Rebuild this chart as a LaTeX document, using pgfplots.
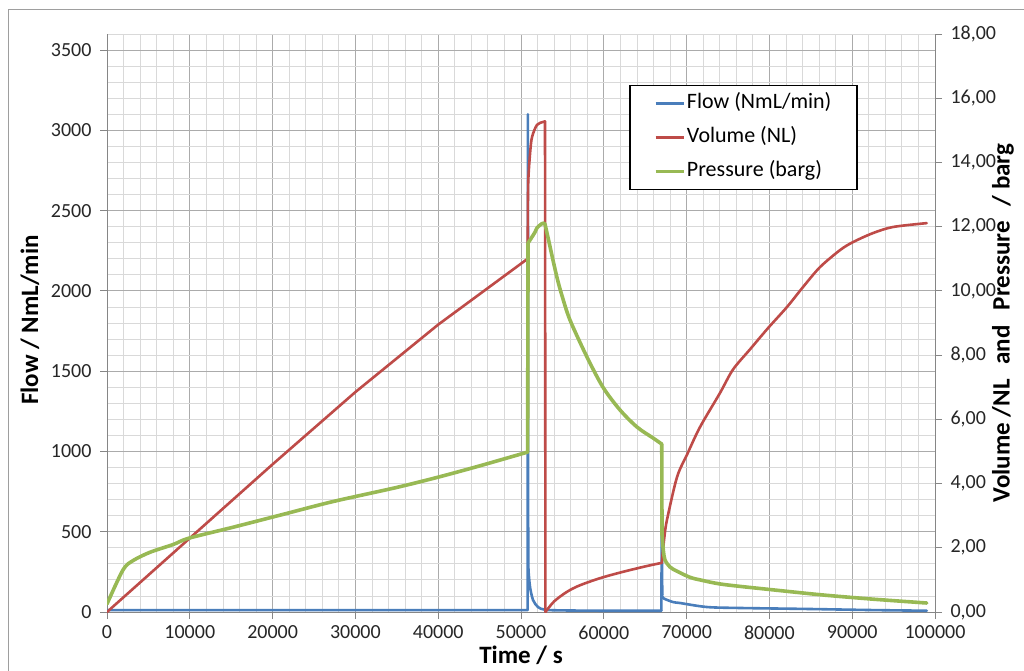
\documentclass[border=0pt]{standalone}
\usepackage{pgfplots}
\pgfplotsset{compat=1.18}
\usepackage{fontspec}
\setmainfont{Carlito}
\definecolor{flowc}{HTML}{4A7EBB}
\definecolor{volc}{HTML}{BE4B48}
\definecolor{presc}{HTML}{98B954}
\definecolor{majg}{HTML}{ABABAB}
\definecolor{ming}{HTML}{D9D9D9}
\definecolor{axg}{HTML}{868686}
\pgfplotsset{
  /pgf/number format/assume math mode=true,
  common/.style={
    at={(107pt,58pt)}, anchor=south west,
    width=828pt, height=578pt, scale only axis,
    xmin=0, xmax=100000,
    tick align=outside, major tick length=7pt, minor tick length=0pt,
    tick style={axg, line width=0.8pt},
    axis line style={axg, line width=1pt},
    ticklabel style={font=\fontsize{20}{23}\selectfont, text=black!85},
  },
  flowst/.style={flowc, line width=2.6pt, line join=round, line cap=round},
  volst/.style={volc, line width=2.6pt, line join=round, line cap=round},
  presst/.style={presc, line width=3.6pt, line join=round, line cap=round},
}
\begin{document}
\begin{tikzpicture}[x=1pt,y=1pt]
\path[use as bounding box] (0,0) rectangle (1024,670);
\draw[color=axg!80, line width=1pt] (8,-2) -- (8,660) -- (1026,660);
\begin{axis}[common,
  ymin=0, ymax=3600,
  axis x line*=bottom, axis y line*=left,
  xtick={0,10000,...,100000}, ytick={0,500,...,3500},
  minor xtick={0,2000,...,100000}, minor ytick={0,100,...,3600},
  grid=both, major grid style={majg, line width=0.8pt}, minor grid style={ming, line width=0.8pt},
  scaled x ticks=false, scaled y ticks=false,
  xticklabel={\pgfmathprintnumber[fixed,precision=0,1000 sep={},assume math mode=true]{\tick}},
  yticklabel={\pgfmathprintnumber[fixed,precision=0,1000 sep={},assume math mode=true]{\tick}},
  xticklabel style={yshift=-3pt},
  yticklabel style={xshift=-5pt},
]
% Flow
\addplot[flowst] coordinates {(0,12) (50800,12) (50830,3100) (50860,600) (50900,260)};
\addplot[flowst, smooth, tension=0.5] coordinates {
(50900,260) (51090,156) (51450,75) (52050,31) (52900,14) (55000,10) (60000,8) (66950,8)};
\addplot[flowst] coordinates {(66950,8) (67000,520) (67060,110)};
\addplot[flowst, smooth, tension=0.5] coordinates {
(67060,110) (67150,87) (68360,62) (69200,56) (72460,31) (76450,25) (84540,19) (92510,12) (99000,8)};
\end{axis}
\begin{axis}[common,
  ymin=0, ymax=18,
  axis x line=none, axis y line*=right,
  ytick={0,2,...,18},
  yticklabel={\pgfmathprintnumber[fixed,fixed zerofill,precision=2,use comma,assume math mode=true]{\tick}},
  yticklabel style={xshift=5pt},
  legend style={at={(0.6304,0.9125)}, anchor=north west, draw=black, line width=1.8pt, fill=white,
    font=\fontsize{22}{24}\selectfont, inner xsep=24pt, inner ysep=8pt, row sep=14pt,
    nodes={inner xsep=1.5pt, inner ysep=0pt, text height=15pt, text depth=5pt}},
  legend cell align=left,
  legend image code/.code={\draw[#1] (0pt,0pt) -- (28pt,0pt);},
]
\addlegendimage{flowc, line width=2.8pt}
\addlegendentry{Flow (NmL/min)}
\addlegendimage{volc, line width=2.8pt}
\addlegendentry{Volume (NL)}
\addlegendimage{presc, line width=3.6pt}
\addlegendentry{Pressure (barg)}
% Volume
\addplot[volst] coordinates {(0,0) (10000,2.3) (20000,4.6) (30000,6.85) (40000,8.95) (50800,11.0) (50830,12.5)};
\addplot[volst, smooth, tension=0.5] coordinates {
(50830,12.5) (50880,13.45) (51100,14.3) (51330,14.79) (51930,15.17) (52660,15.26) (52900,15.28)};
\addplot[volst] coordinates {(52900,15.28) (52950,0)};
\addplot[volst, smooth, tension=0.5] coordinates {
(52950,0) (54000,0.33) (55500,0.62) (57000,0.82) (59500,1.05) (62000,1.23) (65000,1.42) (67000,1.53)};
\addplot[volst, smooth, tension=0.5] coordinates {
(67000,1.53) (67300,2.3) (67630,2.87) (68840,4.2) (70050,4.9) (71620,5.76) (74030,6.82) (75600,7.55)
(77660,8.18) (79830,8.84) (82130,9.5) (84060,10.12) (86110,10.74) (88530,11.27) (90100,11.52)
(92510,11.80) (94930,11.99) (99000,12.11)};
% Pressure
\addplot[presst, smooth, tension=0.5] coordinates {
(0,0.25) (1930,1.31) (3140,1.60) (5190,1.86) (7970,2.10) (9900,2.30) (15220,2.64) (21260,3.04)
(27300,3.44) (35000,3.88) (40000,4.2) (45000,4.55) (50800,4.98)};
\addplot[presst] coordinates {(50800,4.98) (50850,11.49)};
\addplot[presst, smooth, tension=0.5] coordinates {
(50850,11.49) (51330,11.68) (51690,11.83) (51930,11.96) (52300,12.05) (52660,12.11) (52900,12.08)};
\addplot[presst, smooth, tension=0.5] coordinates {
(52900,12.08) (53400,11.5) (53860,10.96) (54400,10.36) (54950,9.85) (55920,9.09) (57970,7.94) (59900,7.0)
(61960,6.29) (64010,5.76) (65940,5.42) (67000,5.23)};
\addplot[presst] coordinates {(67000,5.23) (67030,2.4)};
\addplot[presst, smooth, tension=0.5] coordinates {
(67030,2.4) (67200,1.9) (67390,1.62) (68000,1.40) (68840,1.27) (70410,1.08) (71620,1.0)
(74400,0.86) (80430,0.69) (86470,0.53) (92510,0.40) (99000,0.28)};
\end{axis}
\node[rotate=90, font=\fontsize{25}{28}\selectfont\bfseries] at (30,350) {Flow / NmL/min};
\node[font=\fontsize{25}{28}\selectfont\bfseries] at (521,15) {Time / s};
\node[rotate=90, font=\fontsize{25}{28}\selectfont\bfseries] at (1003,347) {Volume /NL\hspace{0.6em}and\hspace{0.6em}Pressure\hspace{0.6em}/ barg};
\end{tikzpicture}
\end{document}
